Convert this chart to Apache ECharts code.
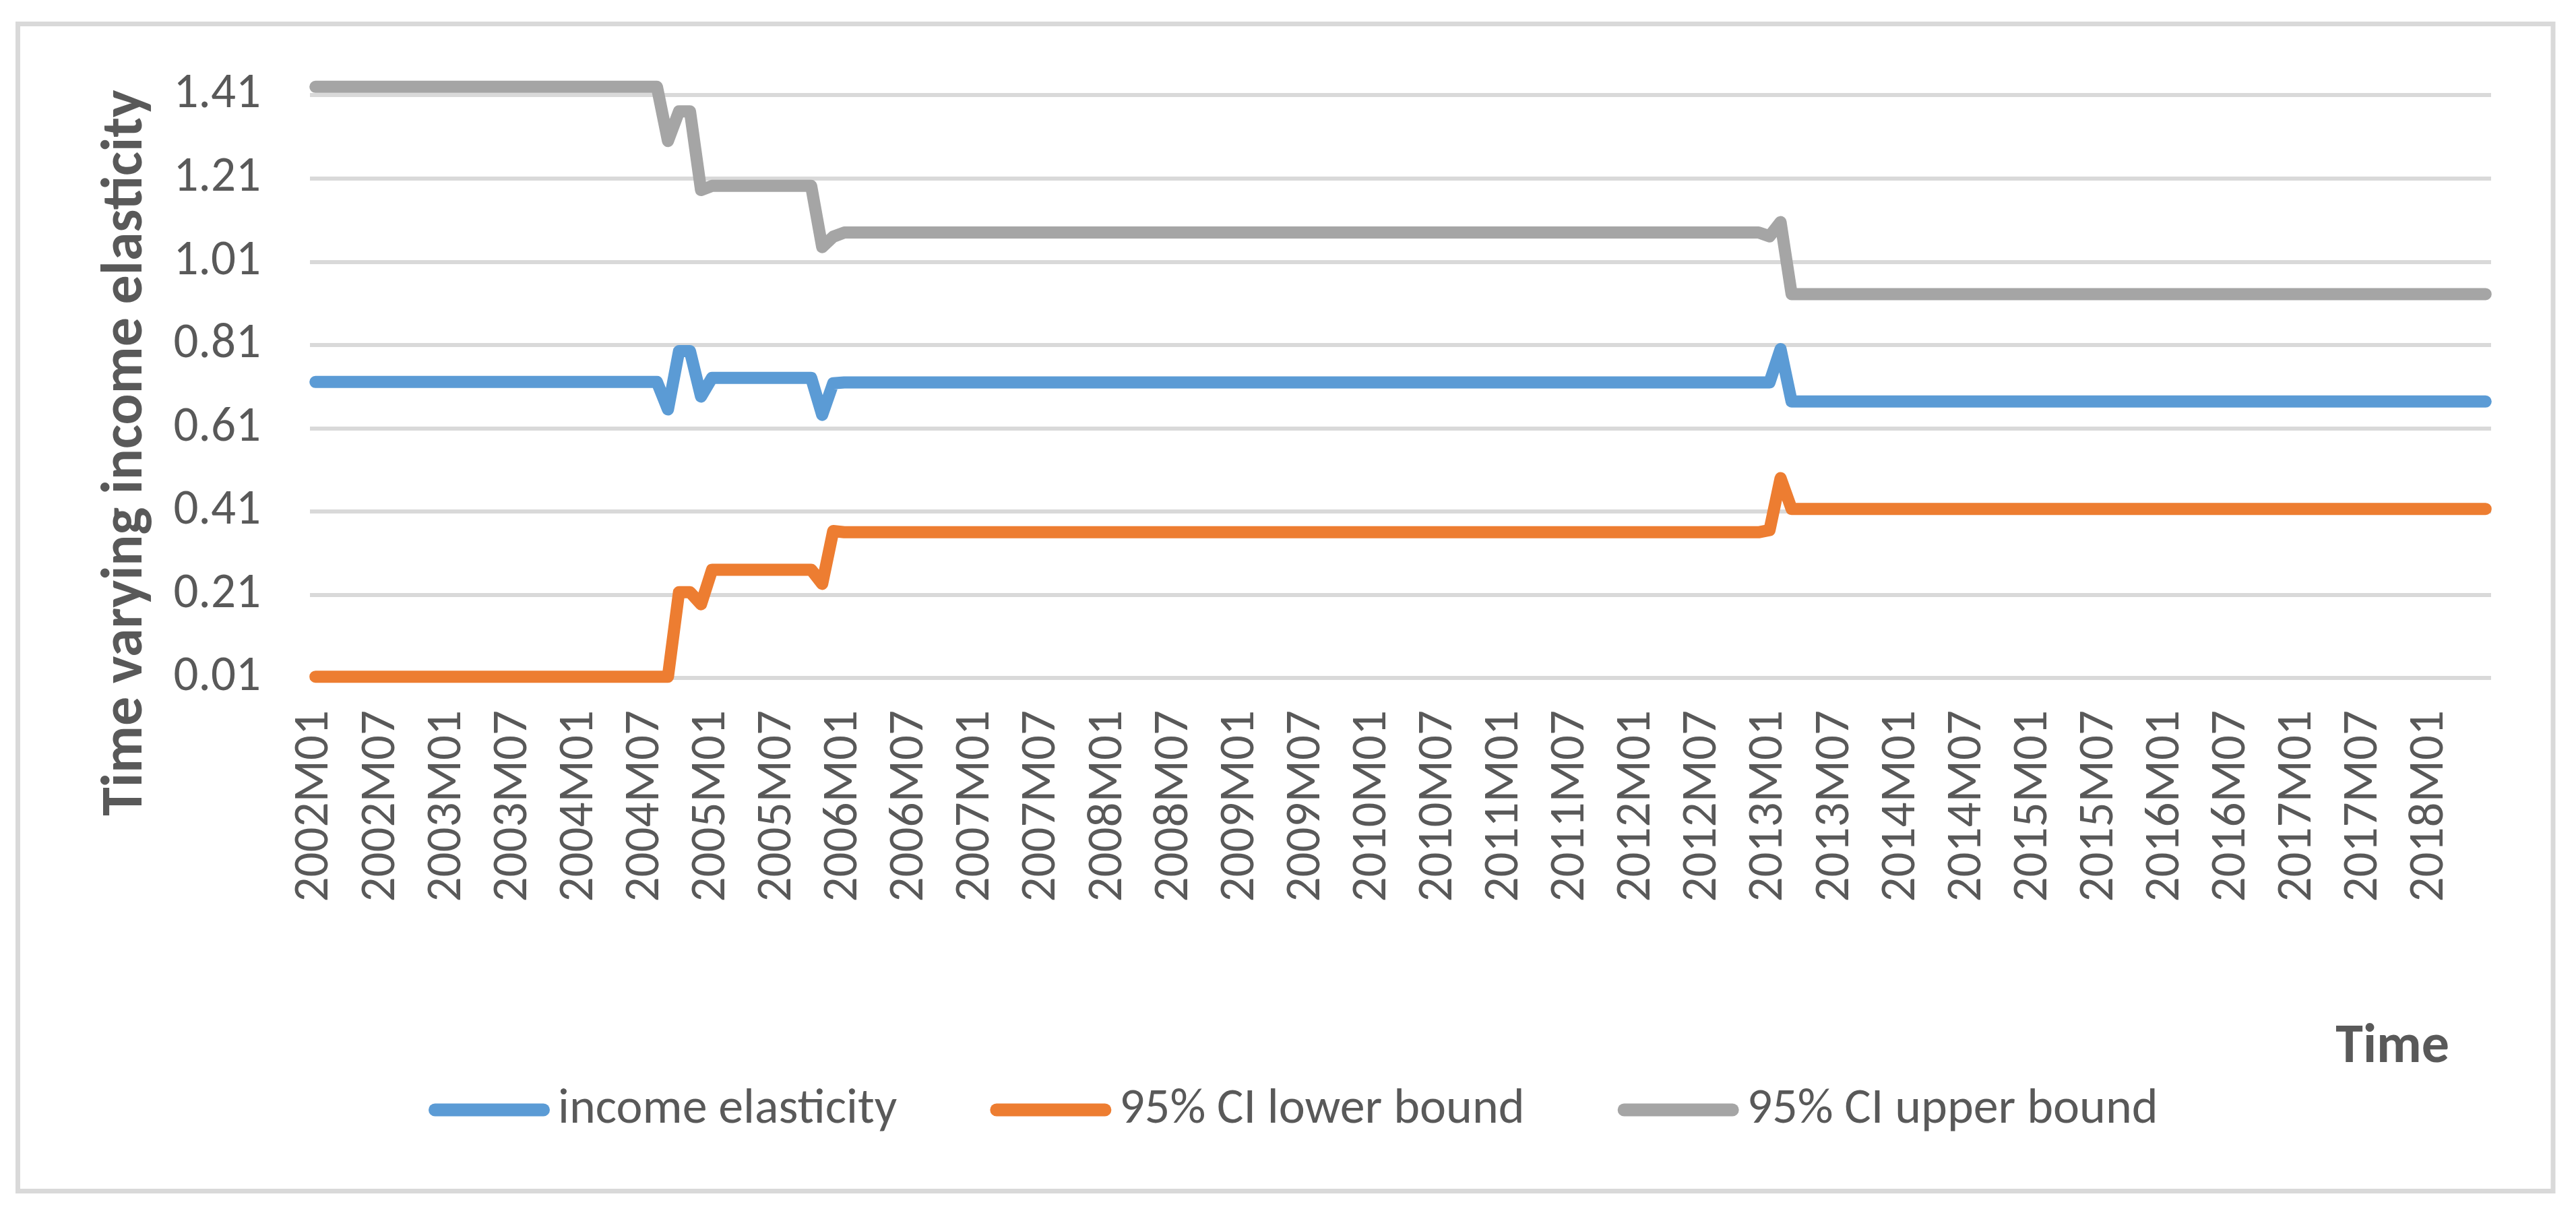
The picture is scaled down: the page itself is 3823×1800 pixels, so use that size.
<!DOCTYPE html>
<html>
<head>
<meta charset="utf-8">
<script src="https://cdn.jsdelivr.net/npm/echarts@6/dist/echarts.min.js"></script>
<style>
html,body{margin:0;padding:0;background:#fff;}
#chart{width:3823px;height:1800px;}
</style>
</head>
<body>
<div id="chart"></div>
<script>
// Monthly categories 2002M01 .. 2018M06
const categories = [];
for (let y = 2002; y <= 2018; y++) {
  for (let m = 1; m <= 12; m++) {
    if (y === 2018 && m > 6) break;
    categories.push(y + 'M' + (m < 10 ? '0' + m : m));
  }
}

const seriesNames = ['income elasticity', '95% CI lower bound', '95% CI upper bound'];

// income elasticity (one row per year)
const incomeElasticity = [
  0.721,0.721,0.721,0.721,0.721,0.721,0.721,0.721,0.721,0.721,0.721,0.721,
  0.721,0.721,0.721,0.721,0.721,0.721,0.721,0.721,0.721,0.721,0.721,0.721,
  0.721,0.721,0.721,0.721,0.721,0.721,0.721,0.721,0.655,0.795,0.795,0.686,
  0.731,0.731,0.731,0.731,0.731,0.731,0.731,0.731,0.731,0.731,0.642,0.718,
  0.720,0.720,0.720,0.720,0.720,0.720,0.720,0.720,0.720,0.720,0.720,0.720,
  0.720,0.720,0.720,0.720,0.720,0.720,0.720,0.720,0.720,0.720,0.720,0.720,
  0.720,0.720,0.720,0.720,0.720,0.720,0.720,0.720,0.720,0.720,0.720,0.720,
  0.720,0.720,0.720,0.720,0.720,0.720,0.720,0.720,0.720,0.720,0.720,0.720,
  0.720,0.720,0.720,0.720,0.720,0.720,0.720,0.720,0.720,0.720,0.720,0.720,
  0.720,0.720,0.720,0.720,0.720,0.720,0.720,0.720,0.720,0.720,0.720,0.720,
  0.720,0.720,0.720,0.720,0.720,0.720,0.720,0.720,0.720,0.720,0.720,0.720,
  0.720,0.800,0.674,0.674,0.674,0.674,0.674,0.674,0.674,0.674,0.674,0.674,
  0.674,0.674,0.674,0.674,0.674,0.674,0.674,0.674,0.674,0.674,0.674,0.674,
  0.674,0.674,0.674,0.674,0.674,0.674,0.674,0.674,0.674,0.674,0.674,0.674,
  0.674,0.674,0.674,0.674,0.674,0.674,0.674,0.674,0.674,0.674,0.674,0.674,
  0.674,0.674,0.674,0.674,0.674,0.674,0.674,0.674,0.674,0.674,0.674,0.674,
  0.674,0.674,0.674,0.674,0.674,0.674
];

// 95% CI lower bound
const lowerBound = [
  0.013,0.013,0.013,0.013,0.013,0.013,0.013,0.013,0.013,0.013,0.013,0.013,
  0.013,0.013,0.013,0.013,0.013,0.013,0.013,0.013,0.013,0.013,0.013,0.013,
  0.013,0.013,0.013,0.013,0.013,0.013,0.013,0.013,0.013,0.216,0.216,0.187,
  0.270,0.270,0.270,0.270,0.270,0.270,0.270,0.270,0.270,0.270,0.236,0.363,
  0.360,0.360,0.360,0.360,0.360,0.360,0.360,0.360,0.360,0.360,0.360,0.360,
  0.360,0.360,0.360,0.360,0.360,0.360,0.360,0.360,0.360,0.360,0.360,0.360,
  0.360,0.360,0.360,0.360,0.360,0.360,0.360,0.360,0.360,0.360,0.360,0.360,
  0.360,0.360,0.360,0.360,0.360,0.360,0.360,0.360,0.360,0.360,0.360,0.360,
  0.360,0.360,0.360,0.360,0.360,0.360,0.360,0.360,0.360,0.360,0.360,0.360,
  0.360,0.360,0.360,0.360,0.360,0.360,0.360,0.360,0.360,0.360,0.360,0.360,
  0.360,0.360,0.360,0.360,0.360,0.360,0.360,0.360,0.360,0.360,0.360,0.360,
  0.365,0.490,0.416,0.416,0.416,0.416,0.416,0.416,0.416,0.416,0.416,0.416,
  0.416,0.416,0.416,0.416,0.416,0.416,0.416,0.416,0.416,0.416,0.416,0.416,
  0.416,0.416,0.416,0.416,0.416,0.416,0.416,0.416,0.416,0.416,0.416,0.416,
  0.416,0.416,0.416,0.416,0.416,0.416,0.416,0.416,0.416,0.416,0.416,0.416,
  0.416,0.416,0.416,0.416,0.416,0.416,0.416,0.416,0.416,0.416,0.416,0.416,
  0.416,0.416,0.416,0.416,0.416,0.416
];

// 95% CI upper bound
const upperBound = [
  1.430,1.430,1.430,1.430,1.430,1.430,1.430,1.430,1.430,1.430,1.430,1.430,
  1.430,1.430,1.430,1.430,1.430,1.430,1.430,1.430,1.430,1.430,1.430,1.430,
  1.430,1.430,1.430,1.430,1.430,1.430,1.430,1.430,1.300,1.371,1.371,1.182,
  1.192,1.192,1.192,1.192,1.192,1.192,1.192,1.192,1.192,1.192,1.045,1.070,
  1.080,1.080,1.080,1.080,1.080,1.080,1.080,1.080,1.080,1.080,1.080,1.080,
  1.080,1.080,1.080,1.080,1.080,1.080,1.080,1.080,1.080,1.080,1.080,1.080,
  1.080,1.080,1.080,1.080,1.080,1.080,1.080,1.080,1.080,1.080,1.080,1.080,
  1.080,1.080,1.080,1.080,1.080,1.080,1.080,1.080,1.080,1.080,1.080,1.080,
  1.080,1.080,1.080,1.080,1.080,1.080,1.080,1.080,1.080,1.080,1.080,1.080,
  1.080,1.080,1.080,1.080,1.080,1.080,1.080,1.080,1.080,1.080,1.080,1.080,
  1.080,1.080,1.080,1.080,1.080,1.080,1.080,1.080,1.080,1.080,1.080,1.080,
  1.071,1.105,0.932,0.932,0.932,0.932,0.932,0.932,0.932,0.932,0.932,0.932,
  0.932,0.932,0.932,0.932,0.932,0.932,0.932,0.932,0.932,0.932,0.932,0.932,
  0.932,0.932,0.932,0.932,0.932,0.932,0.932,0.932,0.932,0.932,0.932,0.932,
  0.932,0.932,0.932,0.932,0.932,0.932,0.932,0.932,0.932,0.932,0.932,0.932,
  0.932,0.932,0.932,0.932,0.932,0.932,0.932,0.932,0.932,0.932,0.932,0.932,
  0.932,0.932,0.932,0.932,0.932,0.932
];

const yMin = 0.01, yMax = 1.433, yStep = 0.2;
const colors = ['#5b9bd5', '#ed7d31', '#a5a5a5'];
const textColor = '#595959';
const FONT = 'Carlito, Lato, "Open Sans", sans-serif';

const chart = echarts.init(document.getElementById('chart'), null, {renderer: 'canvas'});

const pill = 'path://M9.5,0 L170.5,0 A9.5,9.5 0 0 1 170.5,19 L9.5,19 A9.5,9.5 0 0 1 9.5,0 Z';

function lineSeries(name, data, color) {
  return {
    name: name,
    type: 'line',
    data: data,
    showSymbol: false,
    symbol: 'none',
    smooth: false,
    animation: false,
    lineStyle: {color: color, width: 18, cap: 'round', join: 'round'},
    itemStyle: {color: color},
    emphasis: {disabled: true}
  };
}

chart.setOption({
  backgroundColor: '#ffffff',
  animation: false,
  grid: {left: 460, right: 126, top: 127, bottom: 794, containLabel: false},
  legend: {
    left: 636,
    top: 1610,
    itemWidth: 180,
    itemHeight: 19,
    itemGap: 138,
    padding: 0,
    icon: pill,
    data: seriesNames,
    textStyle: {fontFamily: FONT, fontSize: 74, color: textColor, padding: [0, 0, 0, 7]}
  },
  xAxis: {
    type: 'category',
    data: categories,
    boundaryGap: true,
    axisLine: {show: false},
    axisTick: {show: false},
    splitLine: {show: false},
    axisLabel: {
      interval: 5,
      rotate: 90,
      margin: 48,
      fontFamily: FONT,
      fontSize: 73,
      color: textColor
    }
  },
  yAxis: {
    type: 'value',
    min: yMin,
    max: yMax,
    interval: yStep,
    axisLine: {show: false},
    axisTick: {show: false},
    splitLine: {show: true, showMaxLine: false, lineStyle: {color: '#d9d9d9', width: 6}},
    axisLabel: {
      showMaxLabel: false,
      margin: 73,
      fontFamily: FONT,
      fontSize: 73,
      color: textColor,
      formatter: function (v) { return v.toFixed(2); }
    }
  },
  graphic: [
    {
      type: 'rect',
      silent: true,
      z: -1,
      shape: {x: 26.5, y: 35.5, width: 3762.5, height: 1732},
      style: {fill: 'none', stroke: '#d9d9d9', lineWidth: 7}
    },
    {
      type: 'text',
      silent: true,
      x: 188, y: 672,
      rotation: Math.PI / 2,
      style: {
        text: 'Time varying income elasticity',
        fontFamily: FONT, fontWeight: 'bold', fontSize: 86,
        fill: textColor, align: 'center', verticalAlign: 'middle'
      }
    },
    {
      type: 'text',
      silent: true,
      x: 3635, y: 1555,
      style: {
        text: 'Time',
        fontFamily: FONT, fontWeight: 'bold', fontSize: 82,
        fill: textColor, align: 'right', verticalAlign: 'middle'
      }
    }
  ],
  series: [
    lineSeries(seriesNames[0], incomeElasticity, colors[0]),
    lineSeries(seriesNames[1], lowerBound, colors[1]),
    lineSeries(seriesNames[2], upperBound, colors[2])
  ]
});
</script>
</body>
</html>
